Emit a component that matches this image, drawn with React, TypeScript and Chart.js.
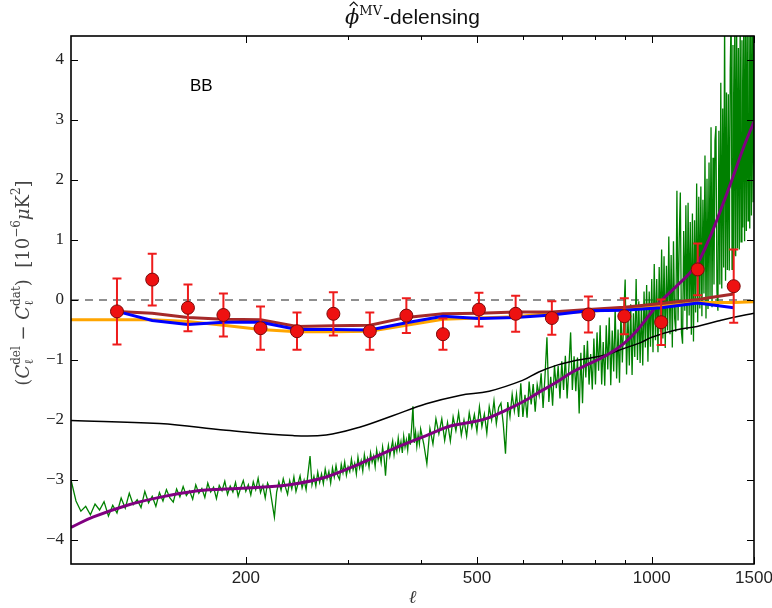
import React, { useEffect, useRef } from 'react';
import { Chart, registerables } from 'chart.js';

Chart.register(...registerables);

// ---------- data ----------
const binEll = [120, 138, 159, 183, 212, 245, 283, 327, 378, 437, 504, 583, 673, 778, 897, 1038, 1200, 1384];
const pointValues = [-0.19, 0.34, -0.13, -0.25, -0.47, -0.52, -0.23, -0.52, -0.26, -0.57, -0.16, -0.23, -0.3, -0.24, -0.27, -0.37, 0.51, 0.23];
const pointErrors = [0.55, 0.43, 0.39, 0.36, 0.36, 0.31, 0.36, 0.31, 0.29, 0.26, 0.28, 0.3, 0.28, 0.3, 0.3, 0.38, 0.43, 0.61];
const brownValues = [-0.19, -0.22, -0.29, -0.32, -0.33, -0.44, -0.43, -0.42, -0.29, -0.23, -0.22, -0.2, -0.2, -0.16, -0.12, -0.06, 0.01, 0.1];
const blueValues = [-0.19, -0.34, -0.41, -0.37, -0.37, -0.49, -0.49, -0.5, -0.38, -0.27, -0.31, -0.29, -0.25, -0.18, -0.17, -0.13, -0.05, -0.13];
const orangeEll = [100, 138, 159, 183, 212, 245, 283, 327, 378, 437, 504, 583, 673, 778, 897, 1038, 1200, 1384, 1500];
const orangeValues = [-0.33, -0.33, -0.36, -0.42, -0.49, -0.53, -0.53, -0.52, -0.42, -0.32, -0.3, -0.28, -0.22, -0.19, -0.14, -0.1, -0.04, -0.04, -0.03];

const purpleEll = [100, 109, 125, 142, 162, 185, 212, 241, 275, 314, 359, 409, 450, 493, 525, 560, 599, 639, 685, 730, 781, 836, 894, 941, 1000, 1034, 1100, 1150, 1200, 1256, 1291, 1326, 1379, 1440, 1500];
const purpleValues = [-3.79, -3.62, -3.42, -3.29, -3.19, -3.15, -3.12, -3.07, -2.95, -2.73, -2.48, -2.26, -2.1, -2.03, -1.96, -1.84, -1.7, -1.54, -1.37, -1.2, -1.06, -0.92, -0.73, -0.52, -0.2, -0.03, 0.22, 0.4, 0.62, 1.02, 1.3, 1.6, 2.04, 2.55, 2.97];

const blackEll = [100, 142, 185, 241, 275, 314, 358, 409, 467, 525, 599, 639, 685, 730, 781, 836, 894, 957, 1000, 1100, 1197, 1300, 1379, 1500];
const blackValues = [-2.01, -2.06, -2.17, -2.26, -2.25, -2.12, -1.93, -1.73, -1.59, -1.52, -1.34, -1.2, -1.09, -1.02, -0.97, -0.91, -0.81, -0.71, -0.62, -0.5, -0.44, -0.35, -0.29, -0.22];

// noisy spectrum, sampled every 2 in ell from 100, then every 5 from 400
const greenLowStart = 100;
const greenLowStep = 2;
const greenLow = [
  -3.0, -3.35, -3.52, -3.44, -3.58, -3.4, -3.5, -3.36, -3.6, -3.42,
  -3.55, -3.3, -3.47, -3.22, -3.41, -3.33, -3.46, -3.19, -3.38, -3.27,
  -3.44, -3.21, -3.35, -3.16, -3.3, -3.37, -3.15, -3.28, -3.11, -3.26,
  -3.18, -3.32, -3.08, -3.22, -3.14, -3.29, -3.05, -3.2, -3.12, -3.31,
  -3.09, -3.18, -3.02, -3.24, -3.1, -3.2, -3.04, -3.27, -3.13, -3.01,
  -3.19, -3.08, -3.25, -3.03, -3.16, -2.97, -3.21, -3.09, -3.3, -3.05,
  -3.14, -3.38, -3.62, -3.2, -3.03, -3.17, -2.98, -3.12, -3.24, -3.01,
  -3.15, -2.95, -3.19, -3.06, -2.93, -3.13, -3.0, -3.16, -2.88, -2.6,
  -3.08, -2.94, -3.1, -2.87, -3.04, -2.9, -3.06, -2.82, -2.98, -2.86,
  -3.05, -2.8, -2.95, -2.76, -2.93, -2.99, -2.74, -2.88, -2.7, -2.92,
  -2.78, -2.86, -2.65, -2.83, -2.72, -2.9, -2.62, -2.8, -2.68, -2.85,
  -2.58, -2.74, -2.64, -2.79, -2.55, -2.7, -2.6, -2.78, -2.5, -2.66,
  -2.56, -2.71, -2.45, -2.62, -2.93, -2.57, -2.42, -2.6, -2.47, -2.35,
  -2.58, -2.41, -2.52, -2.3, -2.49, -2.36, -2.55, -2.27, -2.45, -2.33,
  -2.5, -2.22, -2.41, -2.12, -1.77, -2.38, -2.2, -2.44, -2.25, -2.4,
];
const greenHighStart = 400;
const greenHighStep = 5;
const greenHigh = [
  -2.15, -2.4, -2.73, -2.14, -2.4, -1.98, -2.23, -1.98, -2.34, -2.04,
  -2.35, -1.95, -2.18, -1.88, -2.25, -2.0, -2.27, -1.88, -2.12, -1.91,
  -2.19, -1.78, -2.11, -1.9, -2.22, -1.78, -2.0, -1.68, -2.06, -1.79,
  -1.72, -2.06, -2.56, -1.7, -1.95, -1.57, -1.85, -1.57, -1.95, -1.39,
  -1.95, -1.58, -1.96, -1.36, -1.74, -1.4, -1.86, -1.41, -1.59, -1.22,
  -1.8, -1.26, -0.62, -1.7, -1.28, -1.76, -1.09, -1.47, -1.1, -1.64,
  -1.02, -1.5, -0.93, -1.64, -1.12, -0.54, -1.5, -0.94, -1.52, -0.96,
  -1.89, -0.88, -1.72, -0.75, -1.29, -0.68, -1.41, -0.9, -1.49, -0.64,
  -1.41, -0.54, -1.18, -0.42, -1.41, -0.7, -1.43, -0.42, -1.16, -0.29,
  -1.42, -0.51, -1.19, -0.13, -1.31, -0.49, -1.38, -0.21, -1.04, -0.28,
  0.34, -1.24, -0.26, -1.09, -0.07, -1.25, -0.22, -0.95, 0.35, -1.0,
  -0.02, -1.05, -0.07, -1.09, 0.14, -0.79, 0.25, -1.03, 0.14, -0.78,
  0.35, -0.87, 0.6, -0.67, 0.35, -0.87, 0.55, -0.53, 0.84, -0.64,
  0.73, -0.8, 0.57, -0.51, 1.06, -0.57, 0.75, -0.79, 0.98, -0.3,
  -0.53, 1.82, -0.34, 0.98, 1.79, -0.54, -0.73, 1.15, -0.18, 1.58,
  -0.5, 1.62, -0.26, 1.3, -0.58, 1.44, -0.69, 1.33, -0.21, 1.94,
  -0.37, 1.72, -0.14, 1.89, -0.27, 1.67, 0.11, 2.41, -0.31, 2.02,
  -0.15, 2.29, 0.04, 2.88, -0.12, 2.37, 0.26, 2.66, 2.9, 0.14,
  -0.18, 2.82, 0.26, 3.62, 0.19, 3.19, 0.54, 4.68, 0.32, 3.46,
  0.5, 3.43, 0.49, 3.83, 4.77, 0.51, 4.25, 0.74, 4.74, 0.73,
  4.82, 0.86, 4.2, 0.84, 4.68, 0.97, 4.33, 1.21, 4.65, 0.98,
  4.92, 1.15, 4.69, 1.32, 4.96, 1.19, 4.73, 1.41, 5.0, 1.63,
  4.77,
];

const xLabelTicks = [200, 500, 1000, 1500];
const xMinorTicks = [300, 400, 600, 700, 800, 900];
const yTicks = [-4, -3, -2, -1, 0, 1, 2, 3, 4];
const xRange = [100, 1500];
const yRange = [-4.4, 4.4];

// ---------- helpers ----------
const pts = (xs: number[], ys: number[]) => xs.map((x, i) => ({ x, y: ys[i] }));
const greenData = [
  ...greenLow.map((y, i) => ({ x: greenLowStart + i * greenLowStep, y })),
  ...greenHigh.map((y, i) => ({ x: greenHighStart + i * greenHighStep, y })),
];
const fmt = (v: number) => (v < 0 ? '\u2212' + Math.abs(v) : String(v));

type Part =
  | { t: string; f: string; dy?: number }
  | { sup: string; sub: string; f: string; fs: string; up: number; down: number };

function measure(ctx: CanvasRenderingContext2D, p: Part) {
  if ('t' in p) {
    ctx.font = p.f;
    return ctx.measureText(p.t).width;
  }
  ctx.font = p.f;
  const a = ctx.measureText(p.sup).width;
  ctx.font = p.fs;
  const b = ctx.measureText(p.sub).width;
  return Math.max(a, b);
}

function drawRich(ctx: CanvasRenderingContext2D, parts: Part[], cx: number, base: number) {
  const widths = parts.map((p) => measure(ctx, p));
  const total = widths.reduce((s, w) => s + w, 0);
  let x = cx - total / 2;
  ctx.textAlign = 'left';
  ctx.textBaseline = 'alphabetic';
  parts.forEach((p, i) => {
    if ('t' in p) {
      ctx.font = p.f;
      ctx.fillText(p.t, x, base + (p.dy || 0));
    } else {
      ctx.font = p.f;
      ctx.fillText(p.sup, x, base + p.up);
      ctx.font = p.fs;
      ctx.fillText(p.sub, x, base + p.down);
    }
    x += widths[i];
  });
}

function drawErrorBars(chart: any) {
  const ctx = chart.ctx as CanvasRenderingContext2D;
  const xs = chart.scales.x;
  const ys = chart.scales.y;
  ctx.save();
  ctx.strokeStyle = '#ee1c1c';
  ctx.lineWidth = 2;
  binEll.forEach((l, i) => {
    const px = xs.getPixelForValue(l);
    const top = ys.getPixelForValue(pointValues[i] + pointErrors[i]);
    const bot = ys.getPixelForValue(pointValues[i] - pointErrors[i]);
    ctx.beginPath();
    ctx.moveTo(px, top);
    ctx.lineTo(px, bot);
    ctx.moveTo(px - 4.5, top);
    ctx.lineTo(px + 4.5, top);
    ctx.moveTo(px - 4.5, bot);
    ctx.lineTo(px + 4.5, bot);
    ctx.stroke();
  });
  ctx.restore();
}

const SERIF = '"DejaVu Serif"';
const decor = {
  id: 'decor',
  beforeDatasetDraw(chart: any, args: any) {
    if (args.index === 0) drawErrorBars(chart);
  },
  afterDraw(chart: any) {
    const ctx = chart.ctx as CanvasRenderingContext2D;
    const a = chart.chartArea;
    const xs = chart.scales.x;
    const ys = chart.scales.y;
    ctx.save();
    // ticks (inward, all four sides)
    ctx.strokeStyle = '#000';
    ctx.lineWidth = 1;
    ctx.beginPath();
    const xt = (v: number, len: number) => {
      const px = Math.round(xs.getPixelForValue(v)) + 0.5;
      ctx.moveTo(px, a.bottom);
      ctx.lineTo(px, a.bottom - len);
      ctx.moveTo(px, a.top);
      ctx.lineTo(px, a.top + len);
    };
    xLabelTicks.forEach((v) => xt(v, 7));
    xMinorTicks.forEach((v) => xt(v, 4));
    yTicks.forEach((v) => {
      const py = Math.round(ys.getPixelForValue(v)) + 0.5;
      ctx.moveTo(a.left, py);
      ctx.lineTo(a.left + 7, py);
      ctx.moveTo(a.right, py);
      ctx.lineTo(a.right - 7, py);
    });
    ctx.stroke();
    // frame
    ctx.lineWidth = 1.6;
    ctx.strokeRect(a.left, a.top, a.right - a.left, a.bottom - a.top);

    // title
    ctx.fillStyle = '#111';
    const cx = (a.left + a.right) / 2;
    const phiF = `italic 21px ${SERIF}`;
    const supF = `13px ${SERIF}`;
    const sansF = '21px "Liberation Sans"';
    ctx.font = phiF;
    const wPhi = ctx.measureText('\u03D5').width;
    ctx.font = supF;
    const wSup = ctx.measureText('MV').width;
    ctx.font = sansF;
    const wRest = ctx.measureText('-delensing').width;
    let tx = cx - (wPhi + wSup + 1 + wRest) / 2;
    const tb = 24;
    ctx.textAlign = 'left';
    ctx.textBaseline = 'alphabetic';
    ctx.font = phiF;
    ctx.fillText('\u03D5', tx, tb);
    // hat over phi
    ctx.strokeStyle = '#111';
    ctx.lineWidth = 1.1;
    ctx.beginPath();
    const hx = tx + wPhi / 2 + 1.5;
    ctx.moveTo(hx - 4, 6);
    ctx.lineTo(hx, 2);
    ctx.lineTo(hx + 4, 6);
    ctx.stroke();
    tx += wPhi;
    ctx.font = supF;
    ctx.fillText('MV', tx, tb - 9);
    tx += wSup + 1;
    ctx.font = sansF;
    ctx.fillText('-delensing', tx, tb);

    // BB annotation
    ctx.font = '17px "Liberation Sans"';
    ctx.fillStyle = '#000';
    ctx.fillText('BB', 190, 91);

    // x label
    ctx.font = `italic 18px ${SERIF}`;
    ctx.textAlign = 'center';
    ctx.fillStyle = '#333';
    ctx.fillText('\u2113', cx, 603);

    // y label
    ctx.save();
    ctx.translate(23, 283);
    ctx.rotate(-Math.PI / 2);
    ctx.fillStyle = '#444';
    const N = `18px ${SERIF}`;
    const I = `italic 18px ${SERIF}`;
    const S = `12px ${SERIF}`;
    drawRich(
      ctx,
      [
        { t: '(', f: N },
        { t: 'C', f: I },
        { sup: 'del', sub: '\u2113', f: S, fs: S, up: -9, down: 4 },
        { t: ' \u2212 ', f: N },
        { t: 'C', f: I },
        { sup: 'dat', sub: '\u2113', f: S, fs: S, up: -9, down: 4 },
        { t: ')  [10', f: N },
        { t: '\u22126', f: S, dy: -9 },
        { t: '\u03BC', f: I },
        { t: 'K', f: N },
        { t: '2', f: S, dy: -9 },
        { t: ']', f: N },
      ],
      0,
      6
    );
    ctx.restore();
    ctx.restore();
  },
};

export default function App() {
  const ref = useRef<HTMLCanvasElement>(null);
  useEffect(() => {
    document.body.style.margin = '0';
    const line = { pointRadius: 0, tension: 0, fill: false };
    const chart = new Chart(ref.current as HTMLCanvasElement, {
      type: 'line',
      data: {
        datasets: [
          {
            type: 'scatter',
            label: 'data',
            data: pts(binEll, pointValues),
            pointRadius: 6.5,
            pointBackgroundColor: '#ee1111',
            pointBorderColor: '#7a0a0a',
            pointBorderWidth: 1,
            showLine: false,
            order: 0,
          } as any,
          { label: 'blue', data: pts(binEll, blueValues), borderColor: '#0000ff', borderWidth: 3, order: 1, ...line },
          { label: 'brown', data: pts(binEll, brownValues), borderColor: '#a52a2a', borderWidth: 3, order: 2, ...line },
          { label: 'orange', data: pts(orangeEll, orangeValues), borderColor: '#ffa500', borderWidth: 3, order: 3, ...line },
          { label: 'purple', data: pts(purpleEll, purpleValues), borderColor: '#800080', borderWidth: 3, order: 4, pointRadius: 0, fill: false, tension: 0.4 },
          { label: 'black', data: pts(blackEll, blackValues), borderColor: '#000000', borderWidth: 1.5, order: 5, pointRadius: 0, fill: false, tension: 0.4 },
          { label: 'green', data: greenData, borderColor: '#008000', borderWidth: 1.3, order: 6, ...line },
          { label: 'zero', data: pts(xRange, [0, 0]), borderColor: '#8f8f8f', borderWidth: 2, borderDash: [8, 6], order: 7, ...line },
        ],
      },
      options: {
        animation: false,
        responsive: false,
        maintainAspectRatio: false,
        devicePixelRatio: 1,
        events: [],
        layout: { padding: { left: 0, top: 36, right: 18, bottom: 0 } },
        plugins: { legend: { display: false }, title: { display: false }, tooltip: { enabled: false } },
        scales: {
          x: {
            type: 'logarithmic',
            min: xRange[0],
            max: xRange[1],
            grid: { display: false, drawTicks: false },
            border: { display: false },
            afterBuildTicks: (s: any) => {
              s.ticks = xLabelTicks.map((v) => ({ value: v }));
            },
            afterFit: (s: any) => {
              s.height = 44;
              s.paddingLeft = 0;
              s.paddingRight = 0;
            },
            ticks: {
              autoSkip: false,
              maxRotation: 0,
              padding: 4,
              color: '#222',
              font: { family: 'Liberation Sans', size: 17 },
              callback: (v: any) => String(v),
            },
          },
          y: {
            type: 'linear',
            min: yRange[0],
            max: yRange[1],
            grid: { display: false, drawTicks: false },
            border: { display: false },
            afterBuildTicks: (s: any) => {
              s.ticks = yTicks.map((v) => ({ value: v }));
            },
            afterFit: (s: any) => {
              s.width = 71;
              s.paddingTop = 0;
              s.paddingBottom = 0;
            },
            ticks: {
              padding: 7,
              color: '#222',
              font: { family: 'Liberation Serif', size: 17 },
              callback: (v: any) => fmt(Number(v)),
            },
          },
        },
      } as any,
      plugins: [decor],
    });
    return () => chart.destroy();
  }, []);
  return (
    <div style={{ width: 772, height: 608 }}>
      <canvas ref={ref} width={772} height={608} style={{ display: 'block', width: 772, height: 608 }} />
    </div>
  );
}
